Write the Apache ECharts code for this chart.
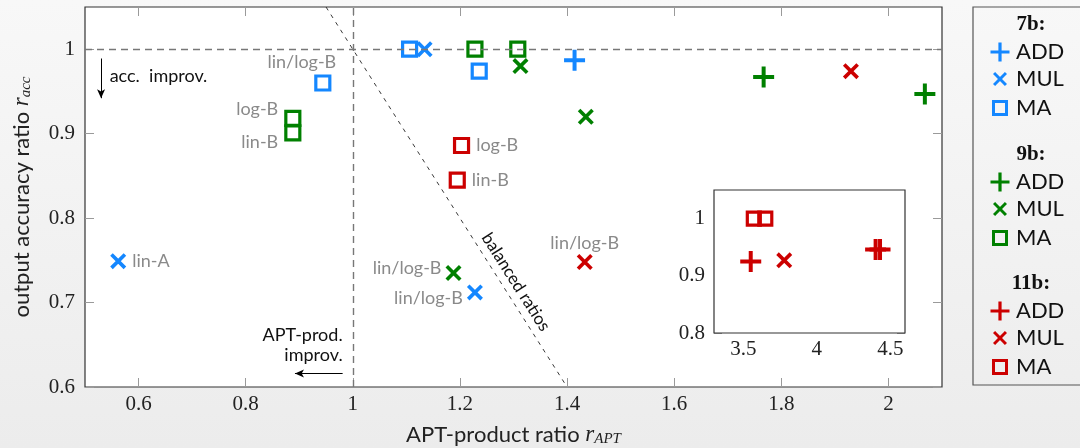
<!DOCTYPE html>
<html><head><meta charset="utf-8">
<script src="https://cdn.jsdelivr.net/npm/echarts@6/dist/echarts.min.js"></script>
<style>
html,body{margin:0;padding:0;width:1080px;height:448px;overflow:hidden;background:linear-gradient(#f8f8f8,#ececec);}
#c{width:1080px;height:448px;}
</style>
</head><body><div id="c"></div>
<script>
// ---------- data ----------
const xTicks = [0.6, 0.8, 1, 1.2, 1.4, 1.6, 1.8, 2];
const yTicks = [0.6, 0.7, 0.8, 0.9, 1];
const insetXTicks = [3.5, 4, 4.5];
const insetYTicks = [0.8, 0.9, 1];

// main plot points [r_APT, r_acc]
const add7 = [[1.414, 0.987]];
const mul7 = [[1.134, 1.0], [0.562, 0.749], [1.228, 0.712]];
const ma7  = [[1.106, 1.0], [1.236, 0.974], [0.944, 0.960]];
const add9 = [[1.767, 0.967], [2.068, 0.947]];
const mul9 = [[1.313, 0.980], [1.435, 0.920], [1.188, 0.735]];
const ma9  = [[1.228, 1.0], [1.308, 1.0], [0.888, 0.918], [0.888, 0.901]];
const mul11 = [[1.930, 0.974], [1.433, 0.748]];
const ma11  = [[1.203, 0.886], [1.195, 0.845]];
// inset points (11b)
const add11Inset = [[3.55, 0.925], [4.40, 0.946], [4.43, 0.946]];
const mul11Inset = [[3.778, 0.927]];
const ma11Inset  = [[3.571, 1.0], [3.649, 1.0]];

// point annotations (parallel to the arrays above)
const mul7Names = ['', 'lin-A', 'lin/log-B'];
const ma7Names  = ['', '', 'lin/log-B'];
const mul9Names = ['', '', 'lin/log-B'];
const ma9Names  = ['', '', 'log-B', 'lin-B'];
const mul11Names = ['', 'lin/log-B'];
const ma11Names  = ['log-B', 'lin-B'];

// guide lines
const balancedLine = [[0.95, 1.05], [1.40, 0.60]];   // r_APT + r_acc = 2

const groupNames = ['7b', '9b', '11b'];
const opNames = ['ADD', 'MUL', 'MA'];
const colors = {'7b': '#1487ff', '9b': '#008000', '11b': '#cc0000'};

// ---------- styles ----------
const PLUS_D = 'M0,40.5H100V59.5H0Z M40.5,0H59.5V100H40.5Z';
const CROSS_D = 'M0,16L16,0L100,84L84,100Z M84,0L100,16L16,100L0,84Z';
const GRAY = '#8a8a8a';
const SANS = 'Lato';
const SERIF = 'Liberation Serif';

const place = {
  mul7: [null, {position: 'right', distance: 6}, {position: 'left', distance: 4, offset: [0, 6]}],
  ma7: [null, null, {position: 'top', distance: 3, offset: [-21, 0]}],
  mul9: [null, null, {position: 'left', distance: 4, offset: [0, -5]}],
  ma9: [null, null, {position: 'left', distance: 6, offset: [0, -9]}, {position: 'left', distance: 6, offset: [0, 9]}],
  mul11: [null, {position: 'top', distance: 2}],
  ma11: [{position: 'right', distance: 6}, {position: 'right', distance: 6}]
};

function symOf(op, inset) {
  if (op === 'ADD') return {symbol: 'path://' + PLUS_D, symbolSize: 21};
  if (op === 'MUL') return {symbol: 'path://' + CROSS_D, symbolSize: 16};
  return {symbol: 'rect', symbolSize: inset ? 13 : 14};
}
function mk(group, op, data, names, places, inset) {
  const color = colors[group];
  return Object.assign({
    type: 'scatter', name: group + ' ' + op,
    xAxisIndex: inset ? 2 : 0, yAxisIndex: inset ? 2 : 0,
    itemStyle: op === 'MA'
      ? {color: 'rgba(0,0,0,0)', borderColor: color, borderWidth: 3.2, opacity: 1}
      : {color: color, opacity: 1},
    label: {show: false, color: GRAY, fontFamily: SANS, fontSize: 18},
    emphasis: {disabled: true}, silent: true, animation: false, z: 4,
    data: data.map((v, i) => {
      const o = {value: v};
      if (names && names[i]) o.label = Object.assign({show: true, formatter: names[i]}, (places && places[i]) || {});
      return o;
    })
  }, symOf(op, inset));
}

const fmt = v => String(+(+v).toFixed(2));
const tickStyle = {color: '#9a9a9a', width: 1};
function xAx(grid, min, max, ticks, pos, showLabel, extra) {
  return Object.assign({
    type: 'value', gridIndex: grid, min: min, max: max, position: pos,
    axisLine: {show: false}, splitLine: {show: false},
    axisTick: {show: true, inside: true, length: grid === 0 ? 9 : 8, customValues: ticks, lineStyle: tickStyle},
    axisLabel: {show: showLabel, customValues: ticks, formatter: fmt, fontFamily: SERIF, fontSize: 21, color: '#222', margin: 7}
  }, extra || {});
}
function yAx(grid, min, max, ticks, pos, showLabel, extra) {
  return Object.assign({
    type: 'value', gridIndex: grid, min: min, max: max, position: pos,
    axisLine: {show: false}, splitLine: {show: false},
    axisTick: {show: true, inside: true, length: grid === 0 ? 9 : 8, customValues: ticks, lineStyle: tickStyle},
    axisLabel: {show: showLabel, customValues: ticks, formatter: fmt, fontFamily: SERIF, fontSize: 21, color: '#222', margin: 10}
  }, extra || {});
}

const titleRich = {
  t: {fontFamily: SANS, fontSize: 22, color: '#222'},
  i: {fontFamily: SERIF, fontStyle: 'italic', fontSize: 23, color: '#222'},
  s: {fontFamily: SERIF, fontStyle: 'italic', fontSize: 15, color: '#222', verticalAlign: 'bottom', padding: [0, 0, -1, 0]}
};

const series = [
  mk('7b', 'ADD', add7),
  mk('7b', 'MUL', mul7, mul7Names, place.mul7),
  mk('7b', 'MA', ma7, ma7Names, place.ma7),
  mk('9b', 'ADD', add9),
  mk('9b', 'MUL', mul9, mul9Names, place.mul9),
  mk('9b', 'MA', ma9, ma9Names, place.ma9),
  mk('11b', 'MUL', mul11, mul11Names, place.mul11),
  mk('11b', 'MA', ma11, ma11Names, place.ma11),
  mk('11b', 'ADD', add11Inset, null, null, true),
  mk('11b', 'MUL', mul11Inset, null, null, true),
  mk('11b', 'MA', ma11Inset, null, null, true),
  {
    type: 'scatter', name: 'guides', xAxisIndex: 0, yAxisIndex: 0, data: [], silent: true, z: 3,
    markLine: {
      silent: true, symbol: 'none', animation: false, label: {show: false},
      data: [
        {yAxis: 1, lineStyle: {color: '#777', width: 1.4, type: [7, 5]}},
        {xAxis: 1, lineStyle: {color: '#777', width: 1.4, type: [7, 5]}},
        [{coord: balancedLine[0], lineStyle: {color: '#222', width: 0.9, type: [4, 5]}}, {coord: balancedLine[1]}],
        [{coord: [0.53, 0.989], symbol: 'none', lineStyle: {color: '#000', width: 1, type: 'solid'}},
         {coord: [0.53, 0.942], symbol: 'arrow', symbolSize: [6, 9]}],
        [{coord: [0.981, 0.616], symbol: 'none', lineStyle: {color: '#000', width: 1, type: 'solid'}},
         {coord: [0.892, 0.616], symbol: 'arrow', symbolSize: [6, 9]}]
      ]
    }
  }
];

const chart = echarts.init(document.getElementById('c'), null, {renderer: 'canvas'});
const option = {
  animation: false,
  backgroundColor: 'transparent',
  grid: [
    {left: 85, top: 7, width: 857, height: 380, show: true, backgroundColor: '#fff', borderColor: '#333', borderWidth: 1.2, outerBoundsMode: 'none'},
    {left: 714, top: 190, width: 191, height: 143, show: true, backgroundColor: '#fff', borderColor: '#333', borderWidth: 1.2, outerBoundsMode: 'none', z: 1}
  ],
  xAxis: [
    xAx(0, 0.5, 2.1, xTicks, 'bottom', true, {
      name: '{t|APT-product ratio }{i|r}{s|APT}', nameLocation: 'middle', nameGap: 36,
      nameTextStyle: {rich: titleRich}
    }),
    xAx(0, 0.5, 2.1, xTicks, 'top', false),
    xAx(1, 3.3, 4.6, insetXTicks, 'bottom', true, {axisLabel: {customValues: insetXTicks, formatter: fmt, fontFamily: SERIF, fontSize: 21, color: '#222', margin: 6}}),
    xAx(1, 3.3, 4.6, insetXTicks, 'top', false)
  ],
  yAxis: [
    yAx(0, 0.6, 1.05, yTicks, 'left', true, {
      name: '{t|output accuracy ratio }{i|r}{s|acc}', nameLocation: 'middle', nameGap: 52,
      nameTextStyle: {rich: titleRich}
    }),
    yAx(0, 0.6, 1.05, yTicks, 'right', false),
    yAx(1, 0.8, 1.05, insetYTicks, 'left', true, {axisLabel: {customValues: insetYTicks, formatter: fmt, fontFamily: SERIF, fontSize: 21, color: '#222', margin: 9}}),
    yAx(1, 0.8, 1.05, insetYTicks, 'right', false)
  ],
  series: series
};
chart.setOption(option);

// ---------- annotations & legend ----------
const px = p => chart.convertToPixel({xAxisIndex: 0, yAxisIndex: 0}, p);
const g = [];
const accPos = px([0.546, 0.968]);
g.push({type: 'text', x: accPos[0], y: accPos[1], silent: true, z: 10,
  style: {text: 'acc.  improv.', fill: '#111', font: '18px ' + SANS, textAlign: 'left', textVerticalAlign: 'middle'}});
const aptPos = px([0.981, 0.649]);
g.push({type: 'text', x: aptPos[0], y: aptPos[1], silent: true, z: 10,
  style: {text: 'APT-prod.\nimprov.', fill: '#111', font: '18px ' + SANS, textAlign: 'right', textVerticalAlign: 'middle', lineHeight: 20}});

// balanced ratios label along the guide line
const b0 = px(balancedLine[0]), b1 = px(balancedLine[1]);
const ang = Math.atan2(b1[1] - b0[1], b1[0] - b0[0]);
const anchor = px([1.284, 0.716]);
const nx = Math.sin(ang), ny = -Math.cos(ang);
g.push({type: 'text', x: anchor[0] + 13 * nx, y: anchor[1] + 13 * ny, rotation: -ang, silent: true, z: 10,
  style: {text: 'balanced ratios', fill: '#111', font: '17px ' + SANS, textAlign: 'center', textVerticalAlign: 'middle'}});

// legend box
g.push({type: 'rect', shape: {x: 973, y: 7, width: 140, height: 378}, silent: true,
  style: {fill: 'none', stroke: '#555', lineWidth: 1.2}});
function plusPts(cx, cy, h, t) {
  return [[cx - t, cy - h], [cx + t, cy - h], [cx + t, cy - t], [cx + h, cy - t], [cx + h, cy + t], [cx + t, cy + t],
          [cx + t, cy + h], [cx - t, cy + h], [cx - t, cy + t], [cx - h, cy + t], [cx - h, cy - t], [cx - t, cy - t]];
}
const headerY = [25, 155, 284];
const rowDy = [27, 54, 83];
groupNames.forEach((gn, gi) => {
  const c = colors[gn];
  g.push({type: 'text', x: 1031, y: headerY[gi], silent: true,
    style: {text: gn + ':', fill: '#111', font: 'bold 21px ' + SERIF, textAlign: 'center', textVerticalAlign: 'middle'}});
  opNames.forEach((op, oi) => {
    const y = headerY[gi] + rowDy[oi];
    const cx = 1000;
    if (op === 'ADD') {
      g.push({type: 'polygon', silent: true, shape: {points: plusPts(cx, y, 9.5, 1.6)}, style: {fill: c}});
    } else if (op === 'MUL') {
      const h = 7, d = 2.1;
      g.push({type: 'polygon', silent: true, shape: {points: [[cx - h, y - h + d], [cx - h + d, y - h], [cx + h, y + h - d], [cx + h - d, y + h]]}, style: {fill: c}});
      g.push({type: 'polygon', silent: true, shape: {points: [[cx + h - d, y - h], [cx + h, y - h + d], [cx - h + d, y + h], [cx - h, y + h - d]]}, style: {fill: c}});
    } else {
      g.push({type: 'rect', silent: true, shape: {x: cx - 6.5, y: y - 6.5, width: 13, height: 13}, style: {fill: 'none', stroke: c, lineWidth: 3}});
    }
    g.push({type: 'text', x: 1016, y: y, silent: true,
      style: {text: op, fill: '#111', font: '22px ' + SANS, textAlign: 'left', textVerticalAlign: 'middle'}});
  });
});
chart.setOption({graphic: {elements: g}});
</script>
</body></html>
